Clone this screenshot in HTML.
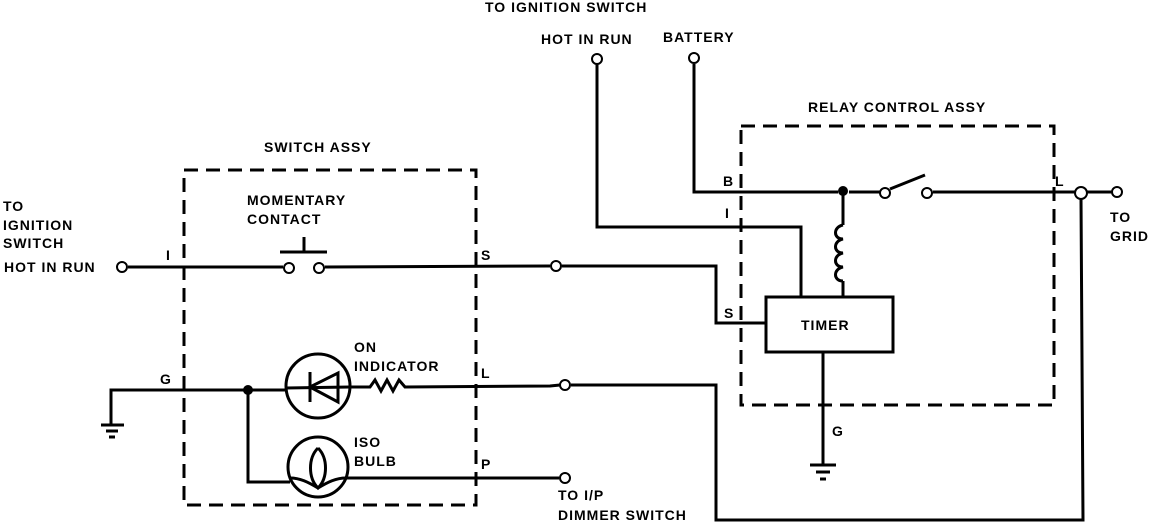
<!DOCTYPE html>
<html><head><style>
body{margin:0;background:#fff}
svg{display:block}
text{font-family:"Liberation Sans",sans-serif;font-weight:bold;font-size:14px;letter-spacing:1px;fill:#000}
</style></head><body>
<svg width="1152" height="524" viewBox="0 0 1152 524" xmlns="http://www.w3.org/2000/svg">
<g fill="none" stroke="#000" stroke-width="3">
<rect x="184" y="170" width="292" height="335" stroke-dasharray="14,8"/>
<rect x="741" y="126" width="313" height="279" stroke-dasharray="14,8"/>
<polyline points="694,64 694,192 838,192"/>
<line x1="849" y1="192" x2="880" y2="192"/>
<line x1="890" y1="189" x2="925" y2="175"/>
<line x1="933" y1="192" x2="1075" y2="192"/>
<line x1="1086" y1="192" x2="1112" y2="192"/>
<polyline points="597,64 597,227 801,227 801,297"/>
<rect x="766" y="297" width="127" height="55"/>
<polyline points="843,192 843,225"/>
<path d="M843,225 c-10,2 -10,14 0,14 c-10,2 -10,14 0,14 c-10,2 -10,14 0,14 c-10,2 -10,14 0,14"/>
<line x1="843" y1="281" x2="843" y2="297"/>
<polyline points="562,266 716,266 716,323 766,323"/>
<line x1="823" y1="352" x2="823" y2="465"/>
<line x1="810" y1="465" x2="836" y2="465"/>
<line x1="816" y1="472" x2="830" y2="472"/>
<line x1="820" y1="479" x2="826" y2="479"/>
<polyline points="1081,198 1083,520 716,520 716,385 571,385"/>
<line x1="128" y1="267" x2="283" y2="267"/>
<line x1="325" y1="267" x2="550" y2="266"/>
<line x1="280" y1="252" x2="327" y2="252"/>
<line x1="304" y1="237" x2="304" y2="252"/>
<polyline points="111,425 111,390 286,390"/>
<line x1="101" y1="425" x2="124" y2="425"/>
<line x1="106" y1="431" x2="118" y2="431"/>
<line x1="109" y1="437" x2="115" y2="437"/>
<circle cx="318" cy="386" r="32"/>
<line x1="286" y1="388" x2="350" y2="387"/>
<line x1="310" y1="372" x2="310" y2="402"/>
<polygon points="310,387 338,373 338,402"/>
<polyline points="350,387 370,387 375,380 381,391 387,380 393,391 399,380 405,387 550,386 560,385"/>
<circle cx="318" cy="467" r="30"/>
<path d="M318,448 c-10,10 -10,30 0,40 c10,-10 10,-30 0,-40"/>
<path d="M290,478 c10,0 18,4 28,10 c10,-6 18,-10 28,-10"/>
<polyline points="248,390 248,482 290,482"/>
<line x1="346" y1="478" x2="559" y2="478"/>
</g>
<g fill="#fff" stroke="#000" stroke-width="2">
<circle cx="597" cy="59" r="5"/><circle cx="694" cy="58" r="5"/>
<circle cx="885" cy="193" r="5"/><circle cx="927" cy="193" r="5"/>
<circle cx="1081" cy="193" r="6"/><circle cx="1117" cy="192" r="5"/>
<circle cx="122" cy="267" r="5"/><circle cx="289" cy="268" r="5"/><circle cx="319" cy="268" r="5"/>
<circle cx="556" cy="266" r="5"/><circle cx="565" cy="385" r="5"/><circle cx="565" cy="478" r="5"/>
</g>
<circle cx="843" cy="191" r="5" fill="#000"/>
<circle cx="248" cy="390" r="5" fill="#000"/>
<text x="485" y="12">TO IGNITION SWITCH</text>
<text x="541" y="44">HOT IN RUN</text>
<text x="663" y="42">BATTERY</text>
<text x="808" y="112">RELAY CONTROL ASSY</text>
<text x="264" y="152">SWITCH ASSY</text>
<text x="3" y="211">TO</text>
<text x="3" y="230">IGNITION</text>
<text x="3" y="248">SWITCH</text>
<text x="4" y="272">HOT IN RUN</text>
<text x="247" y="205">MOMENTARY</text>
<text x="247" y="224">CONTACT</text>
<text x="166" y="260">I</text>
<text x="481" y="260">S</text>
<text x="160" y="384">G</text>
<text x="354" y="352">ON</text>
<text x="354" y="371">INDICATOR</text>
<text x="481" y="378">L</text>
<text x="354" y="447">ISO</text>
<text x="354" y="466">BULB</text>
<text x="481" y="469">P</text>
<text x="558" y="500">TO I/P</text>
<text x="558" y="520">DIMMER SWITCH</text>
<text x="723" y="186">B</text>
<text x="725" y="218">I</text>
<text x="724" y="318">S</text>
<text x="801" y="330">TIMER</text>
<text x="1055" y="186">L</text>
<text x="832" y="436">G</text>
<text x="1110" y="222">TO</text>
<text x="1110" y="241">GRID</text>
</svg>
</body></html>
